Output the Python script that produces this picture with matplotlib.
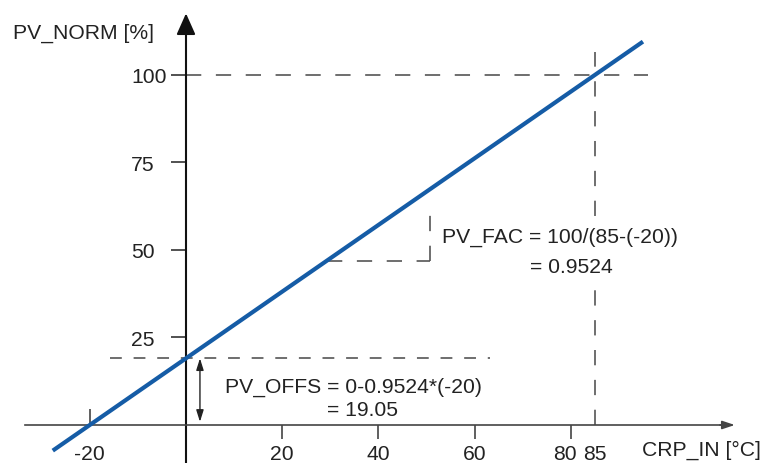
import matplotlib
matplotlib.use("Agg")
import matplotlib.pyplot as plt
from matplotlib.transforms import ScaledTranslation

plt.rcParams["font.family"] = ["Liberation Sans", "DejaVu Sans"]
plt.rcParams["lines.scale_dashes"] = False

# Scaling: PV_NORM = PV_OFFS + PV_FAC * CRP_IN
crp_in_min, crp_in_max = -20, 85
pv_fac = 0.9524
pv_offs = 19.05

# Characteristic line end points (CRP_IN, PV_NORM)
line_x = [-27.7, 95.0]
line_y = [-7.33, 109.53]

# Axis ticks
x_ticks = [20, 40, 60, 80, 85]
x_tick_labels = ["20", "40", "60", "80", "85"]
x_minor_ticks = [-20]
x_minor_labels = ["-20"]
y_ticks = [25, 50, 75, 100]
y_tick_labels = ["25", "50", "75", "100"]

# Helper construction for the gain triangle
fac_h_x = [29.3, 50.7]
fac_h_y = 46.9
fac_v_top = 63.0

# Extent of the drawing area in data units
x_lim = (-38.67, 119.75)
y_lim = (-10.86, 121.71)

BLUE = "#155ca6"
DASH = "#555555"
TEXT = "#222222"
FS = 15.2

fig = plt.figure(figsize=(7.62, 4.64), dpi=100)
ax = fig.add_axes([0, 0, 1, 1])
ax.set_xlim(*x_lim)
ax.set_ylim(*y_lim)
ax.patch.set_visible(False)

# Axes as spines crossing at the origin
for s in ("top", "right"):
    ax.spines[s].set_visible(False)
ax.spines["left"].set_position(("data", 0))
ax.spines["bottom"].set_position(("data", 0))
ax.spines["left"].set_bounds(y_lim[0], 113.0)
ax.spines["bottom"].set_bounds(-33.5, 112.0)
ax.spines["left"].set_color("#111111")
ax.spines["left"].set_linewidth(1.5)
ax.spines["bottom"].set_color("#444444")
ax.spines["bottom"].set_linewidth(1.2)

# Arrow heads on the axes
ax.annotate("", xy=(0, 117.6), xytext=(0, 112.5),
            arrowprops=dict(arrowstyle="-|>,head_length=1.3,head_width=0.58",
                            mutation_scale=10, color="#111111", lw=1.5,
                            shrinkA=0, shrinkB=0))
ax.annotate("", xy=(114.1, 0), xytext=(111.0, 0),
            arrowprops=dict(arrowstyle="-|>,head_length=0.75,head_width=0.25",
                            mutation_scale=10, color="#444444", lw=1.2,
                            shrinkA=0, shrinkB=0))

# Ticks and labels
ax.set_xticks(x_ticks, x_tick_labels)
ax.set_xticks(x_minor_ticks, x_minor_labels, minor=True)
ax.set_yticks(y_ticks, y_tick_labels)
ax.tick_params(axis="x", which="major", direction="out", length=10, width=1.2,
               color="#444444", pad=4, labelsize=FS, labelcolor=TEXT)
ax.tick_params(axis="x", which="minor", direction="in", length=11.5, width=1.2,
               color="#444444", pad=14, labelsize=FS, labelcolor=TEXT)
ax.tick_params(axis="y", which="major", direction="out", length=11, width=1.2,
               color="#333333", pad=11.5, labelsize=FS, labelcolor=TEXT)


def shift_label(lbl, dx_px):
    lbl.set_transform(lbl.get_transform() +
                      ScaledTranslation(dx_px / 100, 0, fig.dpi_scale_trans))


for tick in ax.xaxis.get_major_ticks():
    if tick.get_loc() == 85:
        tick.tick1line.set_visible(False)
    if tick.get_loc() == 80:
        shift_label(tick.label1, -6)
for tick in ax.yaxis.get_major_ticks():
    if tick.get_loc() == 100:
        shift_label(tick.label1, 12)

dash_kw = dict(color=DASH, lw=1.2, dashes=(11, 10.5))

# Reference lines for 100 % at 85 degC
ax.plot([0, 96], [100, 100], **dash_kw)
ax.plot([crp_in_max, crp_in_max], [0, 106.6], **dash_kw)

# Offset reference
ax.plot([-15.8, 63.2], [pv_offs, pv_offs], color=DASH, lw=1.2, dashes=(8.5, 8.5))
ax.annotate("", xy=(2.9, pv_offs), xytext=(2.9, 0.9),
            arrowprops=dict(arrowstyle="<|-|>,head_length=0.7,head_width=0.22",
                            mutation_scale=10, color="#222222", lw=1.0,
                            shrinkA=0, shrinkB=0))

# Gain triangle
ax.plot(fac_h_x, [fac_h_y, fac_h_y], **dash_kw)
ax.plot([fac_h_x[1], fac_h_x[1]], [fac_h_y, fac_v_top], **dash_kw)

# Characteristic line
ax.plot(line_x, line_y, color=BLUE, lw=3.0, solid_capstyle="butt", zorder=5)

# Labels
box = dict(facecolor="white", edgecolor="none", pad=4)
ax.text(-35.97, 112.3, "PV_NORM [%]", fontsize=FS, color=TEXT,
        ha="left", va="center")
ax.text(94.8, -6.86, "CRP_IN [°C]", fontsize=FS, color=TEXT,
        ha="left", va="center")
ax.text(53.2, 54.0, "PV_FAC = 100/(85-(-20))", fontsize=FS, color=TEXT,
        ha="left", va="center", bbox=box, zorder=6)
ax.text(71.5, 45.4, f"= {pv_fac}", fontsize=FS, color=TEXT,
        ha="left", va="center", bbox=box, zorder=6)
ax.text(8.1, 10.9, "PV_OFFS = 0-0.9524*(-20)", fontsize=FS, color=TEXT,
        ha="left", va="center")
ax.text(29.3, 4.3, f"= {pv_offs}", fontsize=FS, color=TEXT,
        ha="left", va="center")

fig.savefig("out.png", dpi=100)
